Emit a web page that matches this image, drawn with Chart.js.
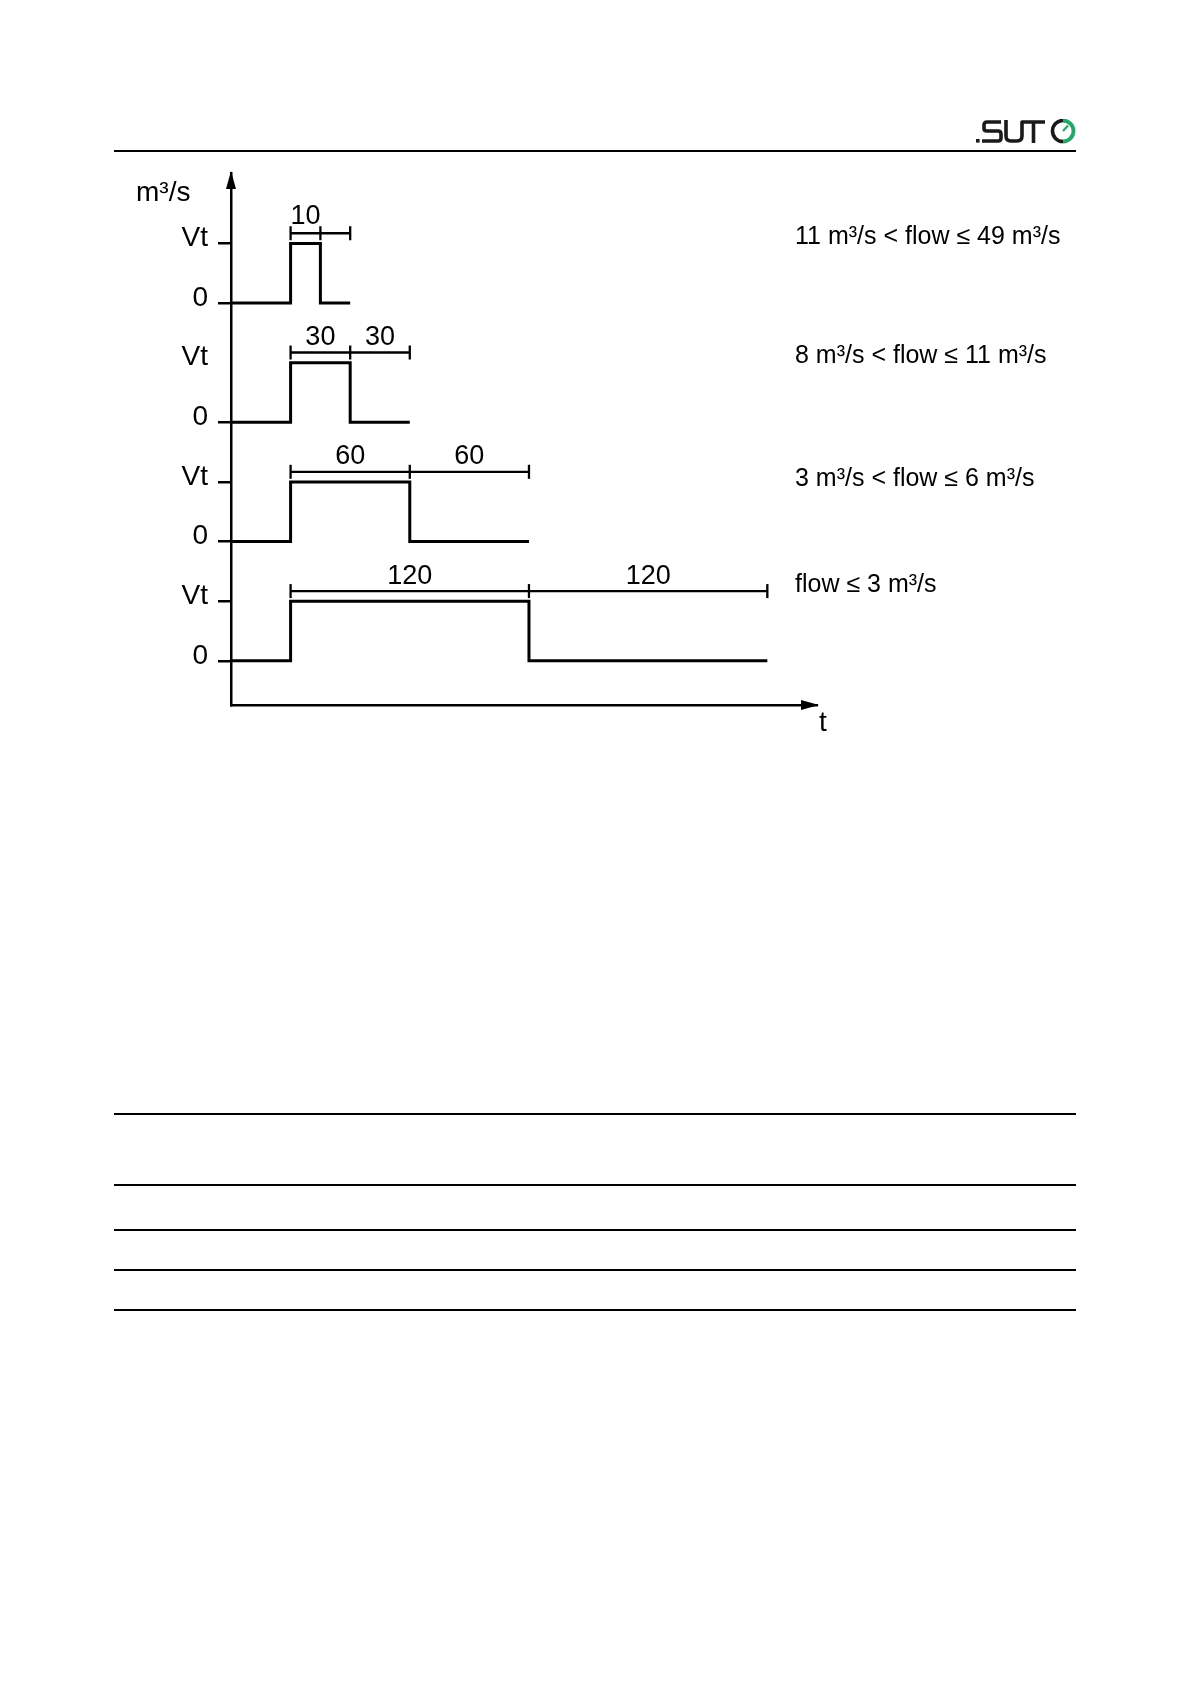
<!DOCTYPE html>
<html>
<head>
<meta charset="utf-8">
<title>Flow pulse timing</title>
<script src="https://cdn.jsdelivr.net/npm/chart.js@4.4.0/dist/chart.umd.min.js"></script>
<style>
  html, body { margin: 0; padding: 0; background: #fff; }
  body { width: 1190px; height: 1684px; position: relative; overflow: hidden; }
  #pulseChart { position: absolute; left: 0; top: 0; }
  .rule { position: absolute; left: 114px; width: 962px; height: 1.5px; background: #000; }
  #logo { position: absolute; left: 975px; top: 119px; }
</style>
</head>
<body>

<svg id="logo" width="102" height="26" viewBox="0 0 102 26">
  <g fill="none" stroke="#1a1a1a" stroke-width="3.6" stroke-linejoin="round">
    <rect x="1" y="20" width="3.6" height="3.6" fill="#1a1a1a" stroke="none"/>
    <path d="M26,3 H12 Q9,3 9,6 V9.5 Q9,12 12,12 H23 Q26,12 26,15 V19 Q26,22 23,22 H7"/>
    <path d="M31,1 V17 Q31,22 36,22 H42 Q47,22 47,17 V3 H70 M58.5,3 V24"/>
    <path d="M88,22.5 A10.5,10.5 0 0 1 88,1.5"/>
  </g>
  <path d="M88,1.5 A10.5,10.5 0 0 1 88,22.5" fill="none" stroke="#22a868" stroke-width="3.8"/>
  <path d="M88,12 L93,6.5" stroke="#22a868" stroke-width="2.2"/>
</svg>

<div class="rule" style="top:150px"></div>
<div class="rule" style="top:1113px"></div>
<div class="rule" style="top:1184px"></div>
<div class="rule" style="top:1229px"></div>
<div class="rule" style="top:1269px"></div>
<div class="rule" style="top:1309px"></div>

<canvas id="pulseChart" width="1190" height="1684"></canvas>

<script>
/* ---- data (time in schematic units) ---- */
const rowBase     = [6, 4, 2, 0];           // zero level of each trace, top to bottom
const pulseStart  = [0, 0, 0, 0];
const pulseStop   = [15, 30, 60, 120];      // the 10 s pulse is drawn wider than scale
const windowEnd   = [30, 60, 120, 240];
const traceStart  = -30;                    // traces start on the y axis
const vtLevel     = 1;                      // Vt height above zero
const markLevel   = 1.17;                   // measuring bar above zero
const segLabels   = [['10'], ['30', '30'], ['60', '60'], ['120', '120']];
const flowLabels  = [
  '11 m\u00b3/s < flow \u2264 49 m\u00b3/s',
  '8 m\u00b3/s < flow \u2264 11 m\u00b3/s',
  '3 m\u00b3/s < flow \u2264 6 m\u00b3/s',
  'flow \u2264 3 m\u00b3/s',
];
const yTickValues = [0, 1, 2, 3, 4, 5, 6, 7];
const yTickLabels = ['0', 'Vt', '0', 'Vt', '0', 'Vt', '0', 'Vt'];
const hiddenTicks = [5];                    // second trace has no Vt tick mark
const yUnit = 'm\u00b3/s';
const xUnit = 't';

const FONT = '"Liberation Sans", Arial, sans-serif';
const INK  = '#000';
const FLOW_SHIFT = [1, 1, 4, -9];           // px nudges of the flow range texts

// one step trace per row
function traceData(i) {
  const b = rowBase[i];
  return [
    { x: traceStart,    y: b },
    { x: pulseStart[i], y: b },
    { x: pulseStart[i], y: b + vtLevel },
    { x: pulseStop[i],  y: b + vtLevel },
    { x: pulseStop[i],  y: b },
    { x: windowEnd[i],  y: b },
  ];
}

// measuring interval bar with end marks
function markData(i) {
  const y = rowBase[i] + markLevel;
  return [pulseStart[i], pulseStop[i], windowEnd[i]].map(x => ({ x, y }));
}

const datasets = [];
rowBase.forEach((_, i) => {
  datasets.push({
    data: traceData(i), borderColor: INK, borderWidth: 3,
    pointRadius: 0, tension: 0, fill: false,
  });
  datasets.push({
    data: markData(i), borderColor: INK, borderWidth: 2.3,
    pointStyle: 'line', rotation: 90, pointRadius: 7,
    pointBorderColor: INK, pointBorderWidth: 2.3, fill: false,
  });
});

/** axis arrows, unit labels, interval values and flow ranges */
const annotations = {
  id: 'annotations',
  afterDraw(chart) {
    const { ctx, chartArea: a, scales: { x, y } } = chart;
    ctx.save();
    ctx.fillStyle = INK;

    // arrow heads
    ctx.beginPath();
    ctx.moveTo(a.left, a.top - 2);
    ctx.lineTo(a.left - 5, a.top + 16);
    ctx.lineTo(a.left + 5, a.top + 16);
    ctx.closePath();
    ctx.fill();
    ctx.beginPath();
    ctx.moveTo(a.right + 2, a.bottom);
    ctx.lineTo(a.right - 16, a.bottom - 5);
    ctx.lineTo(a.right - 16, a.bottom + 5);
    ctx.closePath();
    ctx.fill();

    // units
    ctx.font = '28px ' + FONT;
    ctx.textBaseline = 'middle';
    ctx.textAlign = 'left';
    ctx.fillText(yUnit, a.left - 95, a.top + 20);
    ctx.textAlign = 'center';
    ctx.fillText(xUnit, a.right + 6, a.bottom + 18);

    // interval values over each segment
    ctx.font = '27px ' + FONT;
    rowBase.forEach((b, i) => {
      const edges = [pulseStart[i], pulseStop[i], windowEnd[i]];
      const yp = y.getPixelForValue(b + markLevel) - (i === 0 ? 17 : 15);
      segLabels[i].forEach((txt, k) => {
        const xp = (x.getPixelForValue(edges[k]) + x.getPixelForValue(edges[k + 1])) / 2;
        ctx.fillText(txt, xp, yp);
      });
    });

    // flow ranges on the right
    ctx.font = '25px ' + FONT;
    ctx.textAlign = 'left';
    rowBase.forEach((b, i) => {
      ctx.fillText(flowLabels[i], 795, y.getPixelForValue(b + markLevel) + 3 + FLOW_SHIFT[i]);
    });
    ctx.restore();
  },
};

new Chart(document.getElementById('pulseChart'), {
  type: 'line',
  data: { datasets },
  options: {
    responsive: false, animation: false, devicePixelRatio: 1,
    layout: { padding: { left: 0, right: 373, top: 173, bottom: 979 } },
    plugins: { legend: { display: false }, tooltip: { enabled: false } },
    scales: {
      x: {
        type: 'linear', min: -30, max: 265,
        ticks: { display: false },
        grid: { display: false },
        border: { display: true, color: INK, width: 2.5 },
        afterFit: s => { s.height = 0; },
      },
      y: {
        type: 'linear', min: -0.74, max: 8.18,
        afterBuildTicks: s => { s.ticks = yTickValues.map(v => ({ value: v })); },
        afterFit: s => { s.width = 231; },
        ticks: {
          color: INK, padding: 10, labelOffset: -5, autoSkip: false,
          font: { size: 28, family: FONT },
          callback: v => yTickLabels[yTickValues.indexOf(v)],
        },
        grid: {
          drawOnChartArea: false, tickLength: 13, lineWidth: 2.5,
          color: c => (c.tick && hiddenTicks.includes(c.tick.value)) ? 'rgba(0,0,0,0)' : INK,
        },
        border: { display: true, color: INK, width: 2.5 },
      },
    },
  },
  plugins: [annotations],
});
</script>
</body>
</html>
